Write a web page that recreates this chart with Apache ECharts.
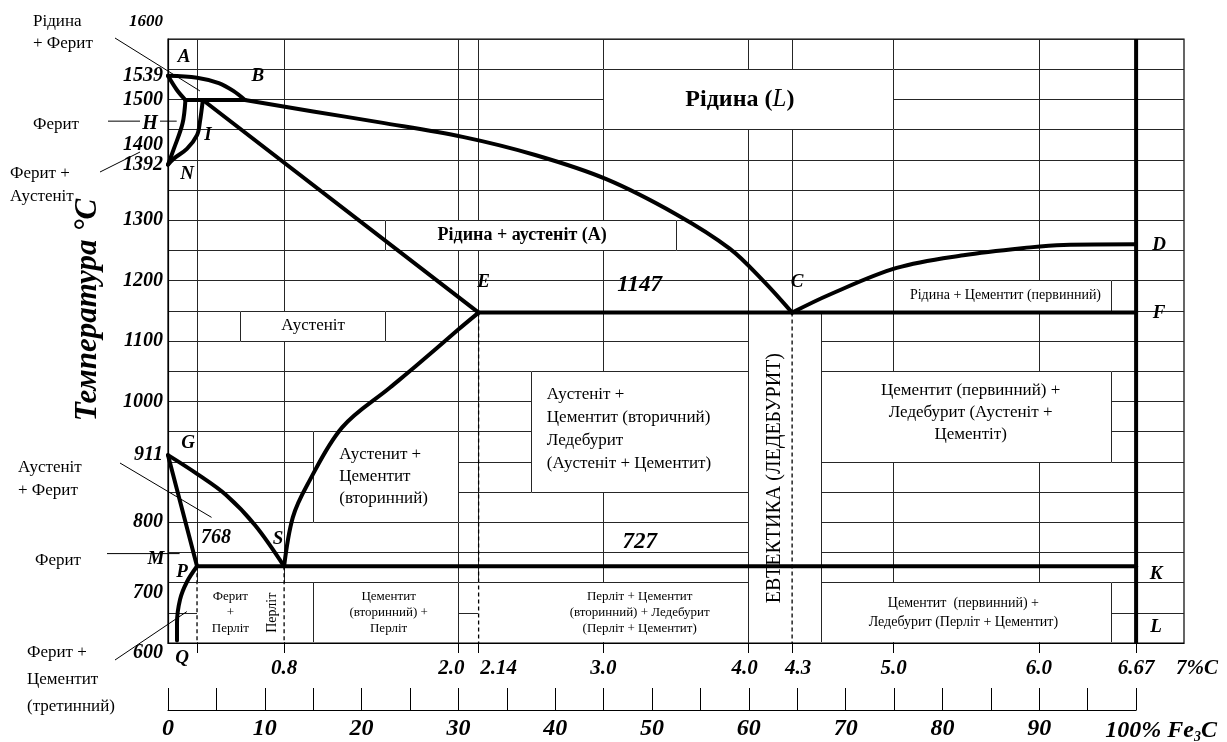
<!DOCTYPE html>
<html>
<head>
<meta charset="utf-8">
<title>Діаграма стану залізо – цементит</title>
<script src="https://cdn.jsdelivr.net/npm/echarts@6.0.0/dist/echarts.min.js"></script>
<style>
  html, body { margin: 0; padding: 0; background: #fff; }
  #chart { width: 1227px; height: 742px; }
</style>
</head>
<body>
<div id="chart"></div>
<script>
// ---------- axis ticks ----------
const TEMP_TICKS = [1600, 1539, 1500, 1400, 1392, 1300, 1200, 1100, 1000, 911, 800, 700, 600];
const CARBON_TICKS = [0.8, 2.0, 2.14, 3.0, 4.0, 4.3, 5.0, 6.0, 6.67, 7.0];
const CARBON_TICK_LABELS = ['0.8', '2.0', '2.14', '3.0', '4.0', '4.3', '5.0', '6.0', '6.67', '7%C'];
const CARBON_TICK_MARKS = [0.2, 0.8, 2.0, 2.14, 3.0, 4.0, 4.3, 5.0, 6.0, 6.67];
const CEMENTITE_C = 6.67;   // % C that equals 100 % Fe3C

// ---------- phase boundaries, [% C, °C] ----------
const lineAB  = [[0, 1539], [0.2, 1536], [0.35, 1527], [0.45, 1514], [0.53, 1499]];
const lineAH  = [[0, 1539], [0.06, 1516], [0.12, 1499]];
const lineHJB = [[0.12, 1499], [0.53, 1499]];
const lineBC  = [[0.53, 1499], [1.0, 1480], [1.46, 1462], [2.03, 1438], [2.53, 1408], [3.02, 1368],
                 [3.5, 1310], [3.87, 1253], [4.1, 1200], [4.3, 1147]];
const lineJE  = [[0.24, 1499], [2.14, 1147]];
const lineHN  = [[0.12, 1499], [0.1, 1460], [0.04, 1418], [0, 1392]];
const lineJN  = [[0.24, 1499], [0.22, 1463], [0.2, 1441], [0.13, 1418], [0.04, 1402], [0, 1392]];
const lineGS  = [[0, 911], [0.2, 880], [0.4, 845], [0.6, 795], [0.8, 727]];
const lineGP  = [[0, 911], [0.2, 727]];
const linePQ  = [[0.2, 727], [0.13, 701], [0.083, 672], [0.062, 633], [0.062, 604]];
const lineES  = [[0.8, 727], [0.86, 808], [0.96, 862], [1.2, 957], [1.53, 1023], [1.71, 1059],
                 [2.0, 1119], [2.14, 1147]];
const lineCD  = [[4.3, 1147], [4.56, 1177], [5.02, 1221], [5.48, 1242], [5.94, 1255], [6.17, 1259], [6.67, 1260]];
const lineECF = [[2.14, 1147], [6.67, 1147]];
const linePSK = [[0.2, 727], [6.67, 727]];
const lineDL  = [[6.67, 600], [6.67, 1600]];

// dotted drops from the invariant points
const dropP = [[0.2, 727], [0.2, 600]];
const dropS = [[0.8, 727], [0.8, 600]];
const dropE = [[2.14, 1147], [2.14, 600]];
const dropC = [[4.3, 1147], [4.3, 600]];

// ---------- drawing ----------
const FAMILY = '"Liberation Serif", "DejaVu Serif", serif';
const bi = s => `italic bold ${s}px ${FAMILY}`;
const rg = s => `${s}px ${FAMILY}`;
const bd = s => `bold ${s}px ${FAMILY}`;
const biRich = (size, extra) => Object.assign({ fontSize: size, fontStyle: 'italic', fontWeight: 'bold', fontFamily: FAMILY, color: '#000' }, extra || {});
const GRID_LINE = '#262626';

const W = 1227;
const GRID = { left: 168, right: 43, top: 39, bottom: 99 };
const plotW = W - GRID.left - GRID.right;

const chart = echarts.init(document.getElementById('chart'));

function boundary(name, data, smooth, cap) {
  return {
    type: 'line', name, data, xAxisIndex: 0, yAxisIndex: 0,
    symbol: 'none', showSymbol: false, smooth: smooth ? 0.35 : false,
    lineStyle: { color: '#000', width: 4, cap: cap || 'round', join: 'round' },
    z: 6, silent: true
  };
}
function dotted(name, data) {
  return {
    type: 'line', name, data, xAxisIndex: 0, yAxisIndex: 0,
    symbol: 'none', showSymbol: false,
    lineStyle: { color: '#000', width: 1.3, type: [4, 3] },
    z: 5, silent: true
  };
}

// per-label nudges keep the crowded carbon labels apart
const carbonStyle = { 2.0: 'l', 2.14: 'r', 4.0: 'l4', 4.3: 'r4', 7.0: 'r7' };
const carbonLabel = v => {
  const i = CARBON_TICKS.indexOf(v);
  const t = i >= 0 ? CARBON_TICK_LABELS[i] : '';
  return '{' + (carbonStyle[v] || 'n') + '|' + t + '}';
};

const option = {
  animation: false,
  backgroundColor: '#fff',
  grid: [
    Object.assign({ show: true, borderColor: '#000', borderWidth: 1.2, backgroundColor: 'transparent', outerBoundsMode: 'none' }, GRID),
    { left: GRID.left, width: plotW * CEMENTITE_C / 7, top: 688, height: 22, outerBoundsMode: 'none' }
  ],
  xAxis: [
    {
      gridIndex: 0, type: 'value', min: 0, max: 7, interval: 0.5,
      axisLine: { show: true, lineStyle: { color: '#000', width: 1.2 } },
      axisTick: { show: true, customValues: CARBON_TICK_MARKS, length: 10, lineStyle: { color: '#000', width: 1 } },
      axisLabel: {
        customValues: CARBON_TICKS, margin: 15, formatter: carbonLabel,
        rich: {
          n: biRich(21),
          l: biRich(21, { padding: [0, 14, 0, 0] }),
          r: biRich(21, { padding: [0, 0, 0, 40] }),
          l4: biRich(21, { padding: [0, 8, 0, 0] }),
          r4: biRich(21, { padding: [0, 0, 0, 12] }),
          r7: biRich(21, { padding: [0, 0, 0, 26] })
        }
      },
      splitLine: { show: true, lineStyle: { color: GRID_LINE, width: 1 } }
    },
    {
      gridIndex: 1, type: 'value', min: 0, max: 100, interval: 5, position: 'bottom',
      axisLine: { show: true, lineStyle: { color: '#000', width: 1.2 } },
      axisTick: { show: true, inside: true, length: 22, lineStyle: { color: '#000', width: 1 } },
      axisLabel: {
        margin: 7,
        formatter: v => (v % 10 ? '' : (v === 100 ? '{q|100% Fe}{s|3}{p|C}' : '{p|' + v + '}')),
        rich: {
          p: biRich(24),
          q: biRich(24, { padding: [0, 0, 0, 50] }),
          s: biRich(14, { padding: [13, 0, 0, 0] })
        }
      },
      splitLine: { show: false }
    }
  ],
  yAxis: [
    {
      gridIndex: 0, type: 'value', min: 600, max: 1600, interval: 50,
      axisLine: { show: true, lineStyle: { color: '#000', width: 1.2 } },
      axisTick: { show: false }, axisLabel: { show: false },
      splitLine: { show: true, lineStyle: { color: GRID_LINE, width: 1 } }
    },
    { gridIndex: 1, type: 'value', show: false }
  ],
  series: [
    dotted('P', dropP), dotted('S', dropS), dotted('E', dropE), dotted('C', dropC),
    boundary('AB', lineAB, true), boundary('AH', lineAH, true), boundary('HJB', lineHJB),
    boundary('BC', lineBC, true), boundary('JE', lineJE), boundary('HN', lineHN, true),
    boundary('JN', lineJN, true), boundary('GS', lineGS, true), boundary('GP', lineGP),
    boundary('PQ', linePQ, true), boundary('ES', lineES, true), boundary('CD', lineCD, true),
    boundary('ECF', lineECF), boundary('PSK', linePSK), boundary('DL', lineDL, false, 'butt')
  ]
};
chart.setOption(option);

// ---------- annotations ----------
const P = (x, t) => chart.convertToPixel({ gridIndex: 0 }, [x, t]);
// crisp 1px position for a grid edge
const crisp = p => { const d = Math.round(p * 2); return d % 2 ? d / 2 : (d + 1) / 2; };
const g = [];
function txt(x, y, text, font, style, extra) {
  g.push(Object.assign({
    type: 'text', x, y, z: 30, silent: true,
    style: Object.assign({ text, font, fill: '#000', align: 'center', verticalAlign: 'middle' }, style || {})
  }, extra || {}));
}
function seg(x1, y1, x2, y2, w, color, z) {
  g.push({ type: 'line', z: z || 30, silent: true, shape: { x1, y1, x2, y2 }, style: { stroke: color || '#000', lineWidth: w || 1 } });
}
// white field over the grid; the cell lines along its edges are drawn again on top
function box(x0, x1, tTop, tBottom, edges) {
  const a = P(x0, tTop), b = P(x1, tBottom);
  const onFrame = tBottom === 600;
  const L = crisp(a[0]), R = crisp(b[0]), T = crisp(a[1]), B = onFrame ? b[1] - 1 : crisp(b[1]);
  g.push({ type: 'rect', z: 3, silent: true, shape: { x: L - 0.5, y: T - 0.5, width: R - L + 1, height: B - T + (onFrame ? 0.5 : 1) }, style: { fill: '#fff' } });
  const e = edges || 'lrtb';
  if (e.includes('l')) seg(L, T, L, B, 1, GRID_LINE, 4);
  if (e.includes('r')) seg(R, T, R, B, 1, GRID_LINE, 4);
  if (e.includes('t')) seg(L, T, R, T, 1, GRID_LINE, 4);
  if (e.includes('b') && !onFrame) seg(L, B, R, B, 1, GRID_LINE, 4);
}
function at(x, t, dx, dy, text, font, style, extra) {
  const p = P(x, t);
  txt(p[0] + dx, p[1] + dy, text, font, style, extra);
}

// temperature scale labels
const tempShift = { 1600: -17, 1400: -15, 700: 10, 600: 10 };
TEMP_TICKS.forEach(v => {
  const p = P(0, v);
  txt(GRID.left - 5, p[1] + (tempShift[v] || 0), String(v), bi(v === 1600 ? 17 : 20), { align: 'right' });
});

// white fields behind phase names
box(3.0, 5.0, 1550, 1450);
box(1.5, 3.5, 1300, 1250);
box(0.5, 1.5, 1150, 1100);
box(1.0, 2.0, 950, 800);
box(2.5, 4.0, 1050, 850);
box(5.0, 6.5, 1200, 1150);
box(4.5, 6.5, 1050, 900);
box(4.0, 4.5, 1147, 600, 'lr');
box(0.2, 1.0, 700, 600, 'rt');
box(1.0, 2.0, 700, 600);
box(2.14, 4.0, 700, 600, 'rt');
box(4.5, 6.5, 700, 600);

// phase names
at(3.94, 1500, 0, 0, '{b|Рідина (}{i|L}{b|)}', bd(24), {
  rich: { b: { font: bd(24), fill: '#000' }, i: { font: `italic 25px ${FAMILY}`, fill: '#000' } }
});
at(2.44, 1275, 0, 0, 'Рідина + аустеніт (А)', bd(18));
at(1.0, 1125, 0, 0, 'Аустеніт', rg(17));
at(1.18, 875, 0, 0, 'Аустенит +\nЦементит\n(вторинний)', rg(17), { align: 'left', lineHeight: 22 });
at(2.61, 955, 0, 0, 'Аустеніт +\nЦементит (вторичний)\nЛедебурит\n(Аустеніт + Цементит)', rg(17), { align: 'left', lineHeight: 23 });
at(5.77, 1175, 0, 0, 'Рідина + Цементит (первинний)', rg(14));
at(5.53, 982, 0, 0, 'Цементит (первинний) +\nЛедебурит (Аустеніт +\nЦементіт)', rg(17), { lineHeight: 22 });
at(4.18, 873, 0, 0, 'ЕВТЕКТИКА (ЛЕДЕБУРИТ)', rg(20), {}, { rotation: Math.PI / 2 });
at(0.43, 650, 0, 0, 'Ферит\n+\nПерліт', rg(13), { lineHeight: 16 });
at(0.72, 650, 0, 0, 'Перліт', rg(14), {}, { rotation: Math.PI / 2 });
at(1.52, 650, 0, 0, 'Цементит\n(вторинний) +\nПерліт', rg(13), { lineHeight: 16 });
at(3.25, 650, 0, 0, 'Перліт + Цементит\n(вторинний) + Ледебурит\n(Перліт + Цементит)', rg(13), { lineHeight: 16 });
at(5.48, 650, 0, 0, 'Цементит  (первинний) +\nЛедебурит (Перліт + Цементит)', rg(14), { lineHeight: 19 });

// invariant points and isotherms
at(0, 1539, 16, -19, 'A', bi(19));
at(0.53, 1499, 13, -24, 'B', bi(19));
at(0.24, 1499, 5, 35, 'I', bi(19));
at(0, 1392, 19, 9, 'N', bi(19));
at(0, 911, 20, -12, 'G', bi(19));
at(0.8, 727, -6, -27, 'S', bi(19));
at(0, 768, 48, -4, '768', bi(20));
at(0, 727, -12, -7, 'M', bi(19));
at(0.2, 727, -15, 6, 'P', bi(19));
at(0.062, 600, 5, 15, 'Q', bi(19));
at(2.14, 1147, 5, -31, 'E', bi(19));
at(4.3, 1147, 5, -31, 'C', bi(19));
at(6.67, 1260, 23, 1, 'D', bi(19));
at(6.67, 1147, 23, 0, 'F', bi(19));
at(6.67, 727, 20, 8, 'K', bi(19));
at(6.67, 600, 20, -16, 'L', bi(19));
at(3.25, 1147, 0, -28, '1147', bi(23));
at(3.25, 727, 0, -24, '727', bi(23));

// phase names outside the field with leader lines
const ann = rg(17);
txt(33, 22, 'Рідина', ann, { align: 'left' });
txt(33, 44, '+ Ферит', ann, { align: 'left' });
(() => { const p = P(0.22, 1514); seg(115, 38, p[0], p[1]); })();

(() => {
  const p = P(0.06, 1464);
  txt(33, p[1] + 3, 'Ферит', ann, { align: 'left' });
  seg(108, p[1], 140, p[1]);
  txt(150, p[1] + 3, 'H', bi(20));
  seg(160, p[1], p[0], p[1]);
})();

txt(10, 174, 'Ферит +', ann, { align: 'left' });
txt(10, 197, 'Аустеніт', ann, { align: 'left' });
seg(100, 172, 140, 152);

txt(18, 468, 'Аустеніт', ann, { align: 'left' });
txt(18, 491, '+ Ферит', ann, { align: 'left' });
(() => { const p = P(0.3, 808); seg(120, 463, p[0], p[1]); })();

(() => {
  const p = P(0.08, 748);
  txt(35, p[1] + 7, 'Ферит', ann, { align: 'left' });
  seg(107, p[1], p[0], p[1]);
})();

txt(27, 653, 'Ферит +', ann, { align: 'left' });
txt(27, 680, 'Цементит', ann, { align: 'left' });
txt(27, 707, '(третинний)', ann, { align: 'left' });
(() => { const p = P(0.13, 652); seg(115, 660, p[0], p[1]); })();

// temperature axis title
txt(88, 310, 'Температура °С', bi(31), {}, { rotation: Math.PI / 2 });

chart.setOption({ graphic: { elements: g } });
</script>
</body>
</html>
